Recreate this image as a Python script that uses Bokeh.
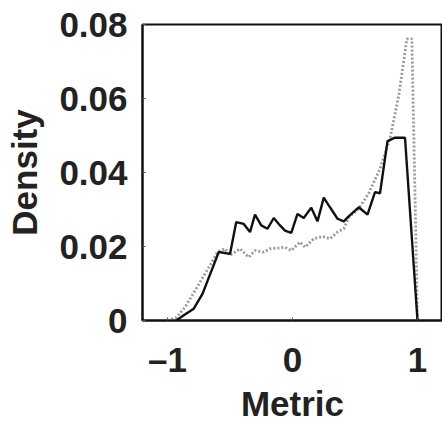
from bokeh.plotting import figure
from bokeh.models import FixedTicker, Range1d
from bokeh.embed import file_html
from bokeh.resources import INLINE

# Solid series (black)
solid_x = [-0.93, -0.87, -0.79, -0.72, -0.59, -0.50, -0.45, -0.39, -0.34, -0.30, -0.25, -0.20,
           -0.15, -0.10, -0.06, -0.01, 0.04, 0.09, 0.15, 0.20, 0.25, 0.30, 0.36, 0.41,
           0.46, 0.53, 0.60, 0.66, 0.70, 0.76, 0.82, 0.90, 1.00]
solid_y = [0.0, 0.0014, 0.0032, 0.0072, 0.0185, 0.0180, 0.0266, 0.0261, 0.0239, 0.0286, 0.0257, 0.0248,
           0.0277, 0.0257, 0.0243, 0.0237, 0.0288, 0.0277, 0.0305, 0.0268, 0.0332, 0.0306, 0.0275, 0.0268,
           0.0285, 0.0306, 0.0286, 0.0347, 0.0344, 0.0485, 0.0494, 0.0494, 0.0]

# Dotted series (gray)
dot_x = [-1.00, -0.93, -0.86, -0.79, -0.72, -0.65, -0.60, -0.54, -0.50, -0.42, -0.35, -0.30, -0.23, -0.18,
         -0.11, -0.06, -0.01, 0.06, 0.10, 0.17, 0.24, 0.30, 0.36, 0.41, 0.45, 0.53,
         0.61, 0.70, 0.78, 0.85, 0.915, 0.955, 1.00]
dot_y = [0.0, 0.0008, 0.0036, 0.0075, 0.0115, 0.0155, 0.0185, 0.0194, 0.0176, 0.0194, 0.0171, 0.0189, 0.0185, 0.0194,
         0.0196, 0.0198, 0.0189, 0.0212, 0.0198, 0.0221, 0.0227, 0.0221, 0.0239, 0.0248, 0.0279, 0.0302,
         0.0344, 0.0410, 0.0492, 0.0608, 0.0761, 0.0761, 0.0]

x_ticks = [-1, 0, 1]
x_labels = ["\u20131", "0", "1"]
y_ticks = [0, 0.02, 0.04, 0.06, 0.08]
y_labels = ["0", "0.02", "0.04", "0.06", "0.08"]

p = figure(width=442, height=422, output_backend="svg", toolbar_location=None,
           x_range=Range1d(-1.2, 1.2), y_range=Range1d(0, 0.08),
           frame_width=300, frame_height=296,
           min_border_left=142, min_border_top=24, min_border_right=0, min_border_bottom=102)

p.line(dot_x, dot_y, line_color="#9a9a9a", line_width=2.8, line_dash="2 2")
p.line(solid_x, solid_y, line_color="#111111", line_width=2.4)

p.grid.visible = False
p.outline_line_color = "#111111"
p.outline_line_width = 2

TXT = "#222222"
p.xaxis.ticker = FixedTicker(ticks=x_ticks)
p.xaxis.major_label_overrides = {t: l for t, l in zip(x_ticks, x_labels)}
p.yaxis.ticker = FixedTicker(ticks=y_ticks)
p.yaxis.major_label_overrides = {t: l for t, l in zip(y_ticks, y_labels)}

for ax in (p.xaxis, p.yaxis):
    ax.axis_line_color = "#111111"
    ax.axis_line_width = 2
    ax.major_tick_in = 3
    ax.major_tick_out = 0
    ax.minor_tick_line_color = None
    ax.major_tick_line_color = "#555555"
    ax.major_label_text_font = "Liberation Sans"
    ax.major_label_text_font_style = "bold"
    ax.major_label_text_font_size = "35px"
    ax.major_label_text_color = TXT
    ax.axis_label_text_font = "Liberation Sans"
    ax.axis_label_text_font_style = "bold"
    ax.axis_label_text_font_size = "35px"
    ax.axis_label_text_color = TXT

p.xaxis.axis_label = "Metric"
p.yaxis.axis_label = "Density"
p.xaxis.major_label_standoff = 19
p.yaxis.major_label_standoff = 15
p.xaxis.axis_label_standoff = 2
p.yaxis.axis_label_standoff = 12

open("out.html", "w").write(file_html(p, INLINE))
